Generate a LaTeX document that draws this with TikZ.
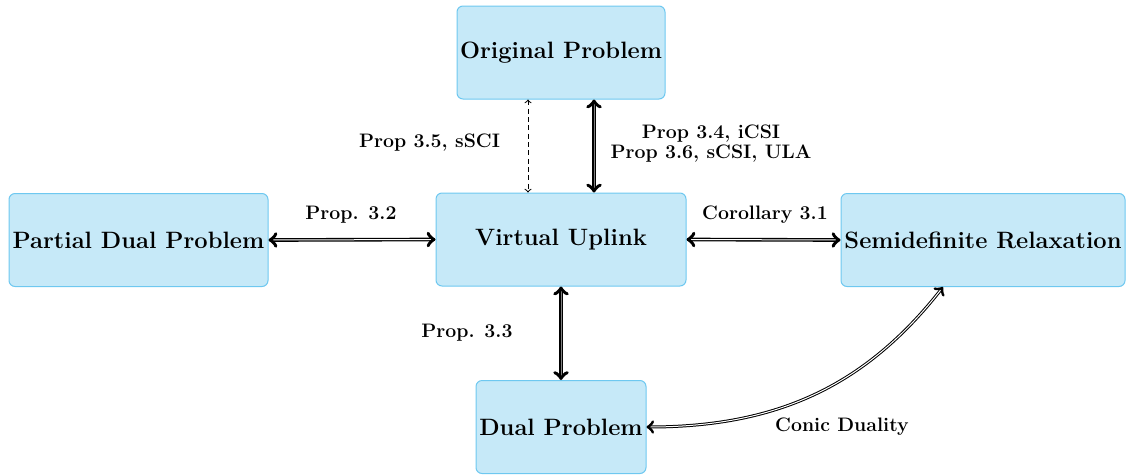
\documentclass[tikz,border=0pt]{standalone}
\definecolor{boxfill}{RGB}{198,233,248}
\definecolor{boxdraw}{RGB}{110,200,240}
\begin{document}
\begin{tikzpicture}[x=0.6pt,y=-0.6pt,
  box/.style={draw=boxdraw,fill=boxfill,line width=0.6pt,rounded corners=3.6pt,
    minimum height=55.8pt,inner sep=1pt,font=\fontsize{14.2}{17}\selectfont\bfseries},
  lbl/.style={font=\fontsize{11.7}{13.5}\selectfont\bfseries,inner sep=1pt},
  dbl/.style={<->,double,thick},
  dblv/.style={<->,double=gray,thick},
  dsh/.style={<->,densely dashed,semithick}]
\useasboundingbox (0,0) rectangle (1132,475);
\node[box,minimum width=124.8pt] (op) at (561,52.5) {Original Problem};
\node[box,minimum width=150pt] (vu) at (561,239.5) {Virtual Uplink};
\node[box,minimum width=155.4pt] (pd) at (138.5,240) {Partial Dual Problem};
\node[box,minimum width=170.4pt] (sr) at (983,240) {Semidefinite Relaxation};
\node[box,minimum width=102pt] (dp) at (561,427) {Dual Problem};
\coordinate (opa) at (528,99.5);
\coordinate (vua) at (528,192.5);
\coordinate (opb) at (594,99.5);
\coordinate (vub) at (594,192.5);
\draw[dsh] (opa) -- (vua);
\draw[dblv] (opb) -- (vub);
\draw[dbl] (pd.east) -- (vu.west);
\draw[dbl] (vu.east) -- (sr.west);
\draw[dblv] (vu.south) -- (dp.north);
\coordinate (sra) at (943,287);
\draw[<->,double,semithick] (dp.east) to[out=0,in=-128] (sra);
\node[lbl,anchor=east] (l35) at (502,143) {Prop 3.5, sSCI};
\node[lbl,align=center] (l34) at (711,144) {Prop 3.4, iCSI\\[-1.5pt]Prop 3.6, sCSI, ULA};
\node[lbl] (l32) at (351,215) {Prop. 3.2};
\node[lbl] (lc31) at (765,215) {Corollary 3.1};
\node[lbl] (l33) at (467,333) {Prop. 3.3};
\node[lbl] (lcd) at (842,427) {Conic Duality};
\end{tikzpicture}
\end{document}
